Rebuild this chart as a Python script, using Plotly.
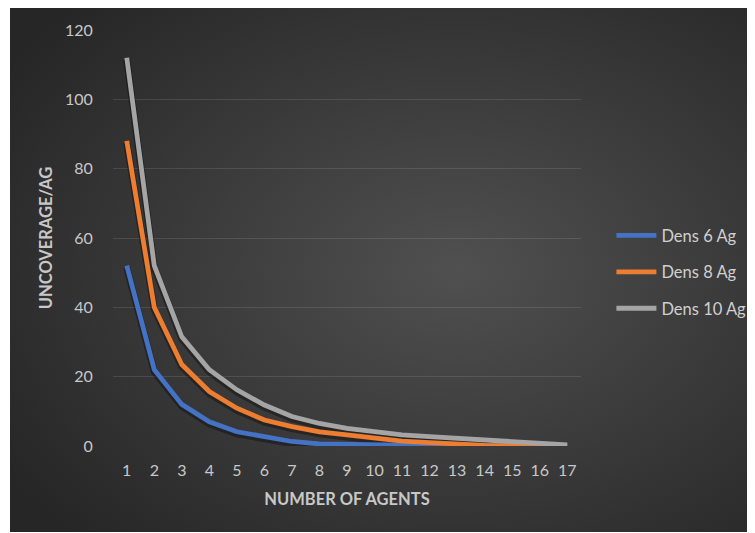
import base64
import plotly.graph_objects as go

# ---- data ----
agents = list(range(1, 18))
dens6 = [52, 22, 12, 7, 4.1, 2.7, 1.3, 0.6, 0.4, 0.3, 0.2, 0.1, 0.1, 0.05, 0, 0, 0]
dens8 = [88, 40, 23.5, 15.7, 10.9, 7.5, 5.6, 4.1, 3.2, 2.2, 1.4, 1.0, 0.5, 0.2, 0.1, 0, 0]
dens10 = [112, 52, 31.5, 22, 16.2, 11.8, 8.5, 6.5, 5.1, 4.1, 3.2, 2.7, 2.2, 1.7, 1.2, 0.8, 0.3]
series_names = ["Dens 6 Ag", "Dens 8 Ag", "Dens 10 Ag"]
series_values = [dens6, dens8, dens10]
colors = ["#4472C4", "#ED7D31", "#A5A5A5"]
y_ticks = [0, 20, 40, 60, 80, 100, 120]

# the page body has an 8px margin, so the figure is drawn at (8,8)
W, H = 747, 525
ML, MR, MT, MB = 105, 174, 22, 87
pw, ph = W - ML - MR, H - MT - MB

fig = go.Figure()

# soft shadows under the lines
for vals in series_values:
    fig.add_trace(go.Scatter(
        x=agents, y=[v - 0.6 for v in vals], mode="lines",
        line=dict(color="rgba(0,0,0,0.35)", width=7),
        showlegend=False, hoverinfo="skip"))

for name, vals, c in zip(series_names, series_values, colors):
    fig.add_trace(go.Scatter(
        x=agents, y=vals, mode="lines", name=name, legendgroup=name,
        line=dict(color=c, width=4.8)))

# dark radial-gradient chart background
svg = ('<svg xmlns="http://www.w3.org/2000/svg" width="744" height="524" '
       'preserveAspectRatio="none"><defs><radialGradient id="g" cx="0.6" cy="0.5" r="0.72">'
       '<stop offset="0" stop-color="#505050"/><stop offset="1" stop-color="#262626"/>'
       '</radialGradient></defs><rect width="744" height="524" fill="url(#g)"/></svg>')
src = "data:image/svg+xml;base64," + base64.b64encode(svg.encode()).decode()
bx0, by0, bx1, by1 = 2, 0, 746, 524
fig.add_layout_image(dict(
    source=src, xref="paper", yref="paper",
    x=(bx0 - ML) / pw, y=(H - MB - by0) / ph,
    sizex=(bx1 - bx0) / pw, sizey=(by1 - by0) / ph,
    xanchor="left", yanchor="top", sizing="stretch", layer="below"))

tick_font = dict(family="Lato, Calibri, sans-serif", size=16, color="#c8c8c8")
title_font = dict(family="Lato, Calibri, sans-serif", size=16.5, color="#c8c8c8")

fig.update_layout(
    width=W, height=H,
    margin=dict(l=ML, r=MR, t=MT, b=MB, autoexpand=False),
    paper_bgcolor="white", plot_bgcolor="rgba(0,0,0,0)",
    showlegend=True,
    legend=dict(x=1.065, y=0.418, xanchor="left", yanchor="middle",
                font=dict(family="Lato, Calibri, sans-serif", size=16.5, color="#d0d0d0"),
                bgcolor="rgba(0,0,0,0)", tracegroupgap=12, itemwidth=40),
    xaxis=dict(range=[0.5, 17.5], tickvals=agents, ticktext=[str(a) for a in agents],
               showgrid=False, zeroline=False, showline=False,
               ticks="outside", ticklen=10, tickcolor="rgba(0,0,0,0)",
               tickfont=tick_font,
               title=dict(text="<b>NUMBER OF AGENTS</b>", font=title_font, standoff=15)),
    yaxis=dict(range=[0, 120], tickvals=y_ticks, showgrid=True,
               gridcolor="rgba(255,255,255,0.11)", gridwidth=1,
               zeroline=False, showline=False,
               ticks="outside", ticklen=16, tickcolor="rgba(0,0,0,0)",
               tickfont=tick_font,
               title=dict(text="<b>UNCOVERAGE/AG</b>", font=title_font, standoff=8)),
)

fig.write_html("out.html")
